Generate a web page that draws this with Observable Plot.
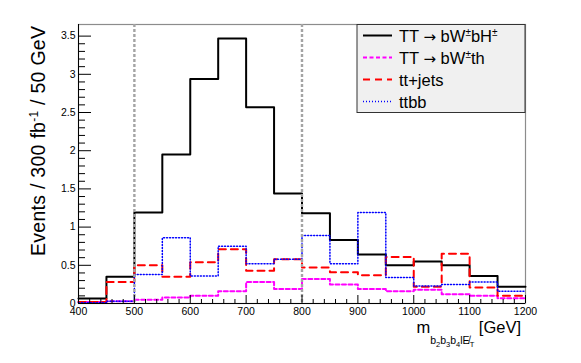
<!DOCTYPE html>
<html><head><meta charset="utf-8">
<script src="https://cdn.jsdelivr.net/npm/d3@7"></script>
<script src="https://cdn.jsdelivr.net/npm/@observablehq/plot@0.6"></script>
<style>body{margin:0;background:#fff}</style>
</head><body><div id="chart"></div>
<script>
// ---- data (bins of 50 GeV, lower edges) ----
const binLow = [400,450,500,550,600,650,700,750,800,850,900,950,1000,1050,1100,1150];
const binEnd = 1200;
const sigBH  = [0.065,0.35,1.19,1.95,2.94,3.47,2.57,1.44,1.18,0.83,0.64,0.50,0.55,0.50,0.36,0.22];
const sigTh  = [0.02,0.03,0.05,0.08,0.10,0.16,0.28,0.19,0.32,0.25,0.19,0.16,0.18,0.12,0.10,0.07];
const ttJets = [0.02,0.28,0.50,0.35,0.54,0.71,0.43,0.58,0.47,0.41,0.37,0.61,0.22,0.65,0.21,0.10];
const ttbb   = [0.01,0.03,0.38,0.86,0.36,0.75,0.52,0.58,0.89,0.52,1.19,0.34,0.23,0.25,0.28,0.16];
const cutLines = [500, 800];
const xTickLabels = [400,500,600,700,800,900,1000,1100,1200];
const yTickLabels = [0,0.5,1,1.5,2,2.5,3,3.5];
const seriesNames = ["TT → bW±bH±", "TT → bW±th", "tt+jets", "ttbb"];

const styles = [
  {stroke: "#000000", strokeWidth: 2, strokeDasharray: null},
  {stroke: "#ff00ff", strokeWidth: 2, strokeDasharray: "4,2.5"},
  {stroke: "#ff0000", strokeWidth: 2, strokeDasharray: "7,5"},
  {stroke: "#0000ff", strokeWidth: 1.5, strokeDasharray: "1,2"}
];
const allSeries = [sigBH, sigTh, ttJets, ttbb];

function steps(vals) {
  return binLow.map((x, i) => ({x, y: vals[i]})).concat([{x: binEnd, y: vals[vals.length - 1]}]);
}

const xMinor = d3.range(400, 1201, 20).filter(v => v % 100 !== 0);
const yMinor = d3.range(0, 36).map(i => i / 10).filter(v => Math.abs(v * 2 - Math.round(v * 2)) > 1e-6);

const font = "'Liberation Sans', Arial, Helvetica, sans-serif";

const plot = Plot.plot({
  width: 581, height: 363,
  marginTop: 24, marginRight: 56, marginBottom: 60, marginLeft: 78,
  style: {fontFamily: font, fontSize: "10.5px", background: "white", color: "#000"},
  x: {domain: [400, 1200], label: null},
  y: {domain: [0, 3.652], label: null},
  marks: [
    Plot.frame({stroke: "#8c8c8c", strokeWidth: 1.2}),
    ...allSeries.map((vals, i) => Plot.line(steps(vals), {
      x: "x", y: "y", curve: "step-after",
      stroke: styles[i].stroke, strokeWidth: styles[i].strokeWidth,
      strokeDasharray: styles[i].strokeDasharray
    })),
    Plot.ruleX(cutLines, {stroke: "#a4a4a4", strokeWidth: 2.4, strokeDasharray: "3,2"}),
    Plot.ruleY([0], {stroke: "#000"}),
    Plot.ruleX([400], {stroke: "#000"}),
    // ROOT-style inward ticks
    Plot.axisX(xTickLabels, {anchor: "bottom", tickSize: 8, dy: -8, fill: "none", stroke: "#000"}),
    Plot.axisX(xMinor, {anchor: "bottom", tickSize: 4, dy: -4, fill: "none", stroke: "#000"}),
    Plot.axisY(yTickLabels, {anchor: "left", tickSize: 13, dx: 13, fill: "none", stroke: "#000"}),
    Plot.axisY(yMinor, {anchor: "left", tickSize: 7, dx: 7, fill: "none", stroke: "#000"}),
    Plot.axisX(xTickLabels, {anchor: "bottom", tickSize: 0, tickPadding: 4, tickFormat: d => String(d), fill: "#000"}),
    Plot.axisY(yTickLabels, {anchor: "left", tickSize: 0, tickPadding: 3, tickFormat: d => String(d), fill: "#000"})
  ]
});
document.getElementById("chart").appendChild(plot);

const svg = d3.select(plot);

// Legend
const lg = svg.append("g").attr("font-family", font).attr("text-anchor", "start");
lg.append("rect").attr("x", 357).attr("y", 24.5).attr("width", 168).attr("height", 88)
  .attr("fill", "#f0f0f0").attr("stroke", "#333").attr("stroke-width", 1);
const rowY = [35.5, 57.5, 79.5, 101.5];
seriesNames.forEach((name, i) => {
  lg.append("line").attr("x1", 363).attr("x2", 392).attr("y1", rowY[i]).attr("y2", rowY[i])
    .attr("stroke", styles[i].stroke).attr("stroke-width", styles[i].strokeWidth)
    .attr("stroke-dasharray", styles[i].strokeDasharray);
  const t = lg.append("text").attr("x", 399).attr("y", rowY[i] + 6)
    .attr("text-anchor", "start").attr("font-size", 16.5).attr("fill", "#000");
  let shifted = false;
  name.split(/(±|→)/).forEach(part => {
    if (!part) return;
    if (part === "±") {
      t.append("tspan").attr("font-size", 10).attr("dy", -6).text("±");
      shifted = true;
    } else {
      const s = t.append("tspan").attr("font-size", 16.5).text(part);
      if (part === "→") s.attr("font-family", "'DejaVu Sans', sans-serif").attr("font-size", 15);
      if (shifted) { s.attr("dy", 6); shifted = false; }
    }
  });
});

// Y axis title
const yt = svg.append("text").attr("transform", "translate(45,26) rotate(-90)")
  .attr("text-anchor", "end").attr("font-family", font).attr("font-size", 19.5).attr("fill", "#000")
  .attr("textLength", 230).attr("lengthAdjust", "spacing");
yt.append("tspan").text("Events / 300 fb");
yt.append("tspan").attr("font-size", 12).attr("dy", -7).text("-1");
yt.append("tspan").attr("dy", 7).text("\u00a0/ 50 GeV");

// X axis title
const xt = svg.append("text").attr("x", 521).attr("y", 333).attr("text-anchor", "end")
  .attr("font-family", font).attr("font-size", 16.5).attr("fill", "#000");
xt.append("tspan").text("m");
const subs = [["b", "2"], ["b", "3"], ["b", "4"], ["lE\u0338", "T"]];
let first = true;
subs.forEach(([a, b]) => {
  xt.append("tspan").attr("font-size", 10.5).attr("dy", first ? 10.5 : -3).text(a);
  xt.append("tspan").attr("font-size", 7.5).attr("dy", 3).text(b);
  first = false;
});
xt.append("tspan").attr("font-size", 16.5).attr("dy", -13.5).text("\u00a0[GeV]");
</script>
</body></html>
